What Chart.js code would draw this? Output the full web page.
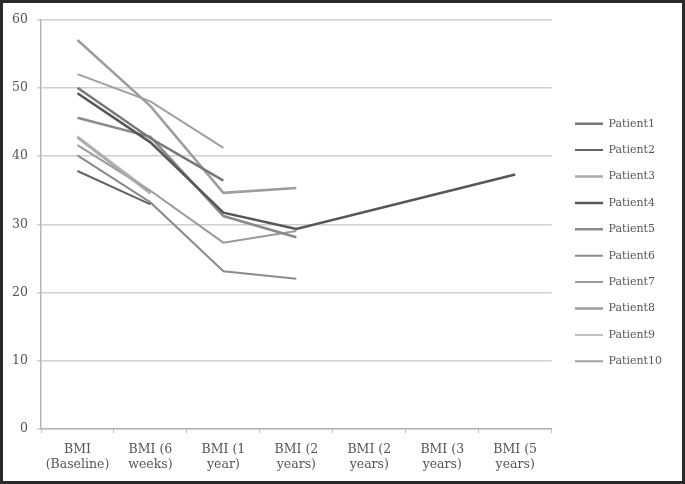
<!DOCTYPE html>
<html>
<head>
<meta charset="utf-8">
<script src="https://cdn.jsdelivr.net/npm/chart.js@4/dist/chart.umd.min.js"></script>
<style>
  html, body { margin: 0; padding: 0; background: #fff; }
  #wrap { width: 685px; height: 484px; box-sizing: border-box; border: 3px solid #2a2a2a; background: #fff; }
  canvas { display: block; }
</style>
</head>
<body>
<div id="wrap"><canvas id="c" width="679" height="478"></canvas></div>
<script>
const categories = [
  ["BMI", "(Baseline)"], ["BMI (6", "weeks)"], ["BMI (1", "year)"], ["BMI (2", "years)"],
  ["BMI (2", "years)"], ["BMI (3", "years)"], ["BMI (5", "years)"]
];
const seriesNames = ["Patient1","Patient2","Patient3","Patient4","Patient5","Patient6","Patient7","Patient8","Patient9","Patient10"];
const patient1  = [50.0, 42.6, 36.4];
const patient2  = [37.8, 32.9];
const patient3  = [42.7, 34.5];
const patient4  = [49.2, 42.0, 31.7, 29.3, null, null, 37.3];
const patient5  = [45.6, 42.8, 31.2, 28.1];
const patient6  = [40.1, 33.2, 23.1, 22.0];
const patient7  = [41.6, 34.9, 27.3, 29.0];
const patient8  = [57.0, 47.3, 34.6, 35.3];
const patient9  = [42.9, 34.8];
const patient10 = [52.0, 48.0, 41.2];
const seriesValues = [patient1, patient2, patient3, patient4, patient5, patient6, patient7, patient8, patient9, patient10];
const yTicks = [0, 10, 20, 30, 40, 50, 60];

const colors = ["#777777","#636363","#ababab","#575757","#8a8a8a","#8c8c8c","#9a9a9a","#9d9d9d","#c0c0c0","#a0a0a0"];
const widths = [2.5, 2, 2.5, 2.5, 2.5, 2, 2, 2.5, 2, 2];

const datasets = seriesNames.map((n, i) => ({
  label: n,
  data: seriesValues[i],
  borderColor: colors[i],
  backgroundColor: colors[i],
  borderWidth: widths[i],
  pointRadius: 0,
  pointHoverRadius: 0,
  tension: 0,
  fill: false,
  spanGaps: true
}));

const tickFont = { family: "'DejaVu Serif', serif", size: 12.5, lineHeight: 1.2 };
const legendPad = 15.4;

const shiftLegend = {
  id: 'shiftLegend',
  afterLayout(chart) {
    const l = chart.legend;
    if (!l) return;
    const dx = 572 - (l.left + legendPad);
    l.left += dx; l.right += dx;
    l.top -= 7; l.bottom -= 7;
  }
};

new Chart(document.getElementById('c'), {
  type: 'line',
  data: { labels: categories, datasets },
  plugins: [shiftLegend],
  options: {
    responsive: false,
    animation: false,
    layout: { padding: { top: 15, left: 0, right: 18, bottom: 0 } },
    plugins: {
      tooltip: { enabled: false },
      legend: {
        position: 'right',
        align: 'center',
        labels: {
          usePointStyle: true,
          pointStyle: 'line',
          pointStyleWidth: 28,
          padding: legendPad,
          color: '#555',
          font: { family: "'DejaVu Serif', serif", size: 11 }
        }
      }
    },
    scales: {
      x: {
        offset: true,
        grid: { offset: true, drawOnChartArea: false, drawTicks: true, tickLength: 4, color: '#bbb', lineWidth: 1 },
        border: { color: '#b5b5b5', width: 1.5 },
        ticks: { color: '#555', font: tickFont, padding: 9, maxRotation: 0, autoSkip: false },
        afterFit(s) { s.height = 52; }
      },
      y: {
        min: 0, max: 60,
        afterBuildTicks(s) { s.ticks = yTicks.map(v => ({ value: v })); },
        grid: { color: '#cfcfcf', lineWidth: 1.5, tickLength: 4, drawTicks: true },
        border: { color: '#b5b5b5', width: 1.5 },
        ticks: { color: '#555', font: tickFont, padding: 9 },
        afterFit(s) { s.width = 38; }
      }
    }
  }
});
</script>
</body>
</html>
